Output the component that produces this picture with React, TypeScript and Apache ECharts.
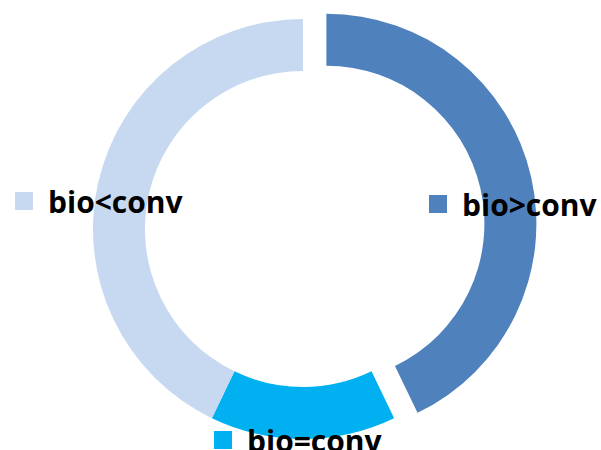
import React, { useEffect, useRef } from "react";
import * as echarts from "echarts";

const categories = ["bio>conv", "bio=conv", "bio<conv"];
const values = [3, 1, 3];
const colors = ["#4F81BD", "#00B0F0", "#C6D9F1"];
const exploded = [true, false, false];
const labelPos: [number, number][] = [
  [429, 204],
  [214, 440],
  [15, 201],
];

const CENTER: [number, number] = [303, 229];
const RADIUS: [number, number] = [158, 210];
const EXPLODE = 24;

export default function App() {
  const ref = useRef<HTMLDivElement>(null);
  useEffect(() => {
    if (!ref.current) return;
    const chart = echarts.init(ref.current, undefined, { renderer: "svg" });
    const rich: Record<string, any> = {
      t: {
        fontFamily: "Open Sans",
        fontWeight: "bold",
        fontSize: 30,
        color: "#000",
        padding: [0, 0, 0, 15],
        verticalAlign: "middle",
        lineHeight: 34,
      },
    };
    colors.forEach((c, i) => {
      rich["s" + i] = {
        backgroundColor: c,
        width: 18,
        height: 18,
        verticalAlign: "middle",
      };
    });
    const total = values.reduce((a, b) => a + b, 0);
    // offset for exploded slices (mid-angle of each slice)
    let acc = 0;
    const offsets = values.map((v) => {
      const mid = ((acc + v / 2) / total) * Math.PI * 2;
      acc += v;
      return [Math.sin(mid) * EXPLODE, -Math.cos(mid) * EXPLODE];
    });
    const baseSeries = {
      type: "pie",
      center: CENTER,
      radius: RADIUS,
      startAngle: 90,
      clockwise: true,
      avoidLabelOverlap: false,
      emphasis: { disabled: true },
      labelLine: { show: false },
      label: {
        show: true,
        formatter: (p: any) => `{s${p.dataIndex}|}{t|${p.name}}`,
        rich,
      },
      labelLayout: (p: any) => ({
        x: labelPos[p.dataIndex][0],
        y: labelPos[p.dataIndex][1],
        align: "left",
        verticalAlign: "middle",
      }),
      data: categories.map((name, i) => ({
        name,
        value: values[i],
        itemStyle: { color: exploded[i] ? "rgba(0,0,0,0)" : colors[i] },
      })),
    };
    const explodedSeries = categories
      .map((_, k) => k)
      .filter((k) => exploded[k])
      .map((k) => ({
        type: "pie",
        silent: true,
        center: [CENTER[0] + offsets[k][0], CENTER[1] + offsets[k][1]],
        radius: RADIUS,
        startAngle: 90,
        clockwise: true,
        emphasis: { disabled: true },
        label: { show: false },
        labelLine: { show: false },
        data: categories.map((name, i) => ({
          name,
          value: values[i],
          itemStyle: { color: i === k ? colors[i] : "rgba(0,0,0,0)" },
        })),
      }));
    chart.setOption({
      animation: false,
      series: [...explodedSeries, baseSeries],
    });
    return () => chart.dispose();
  }, []);
  return (
    <div
      ref={ref}
      style={{ position: "fixed", left: 0, top: 0, width: 601, height: 450, background: "#fff" }}
    />
  );
}
